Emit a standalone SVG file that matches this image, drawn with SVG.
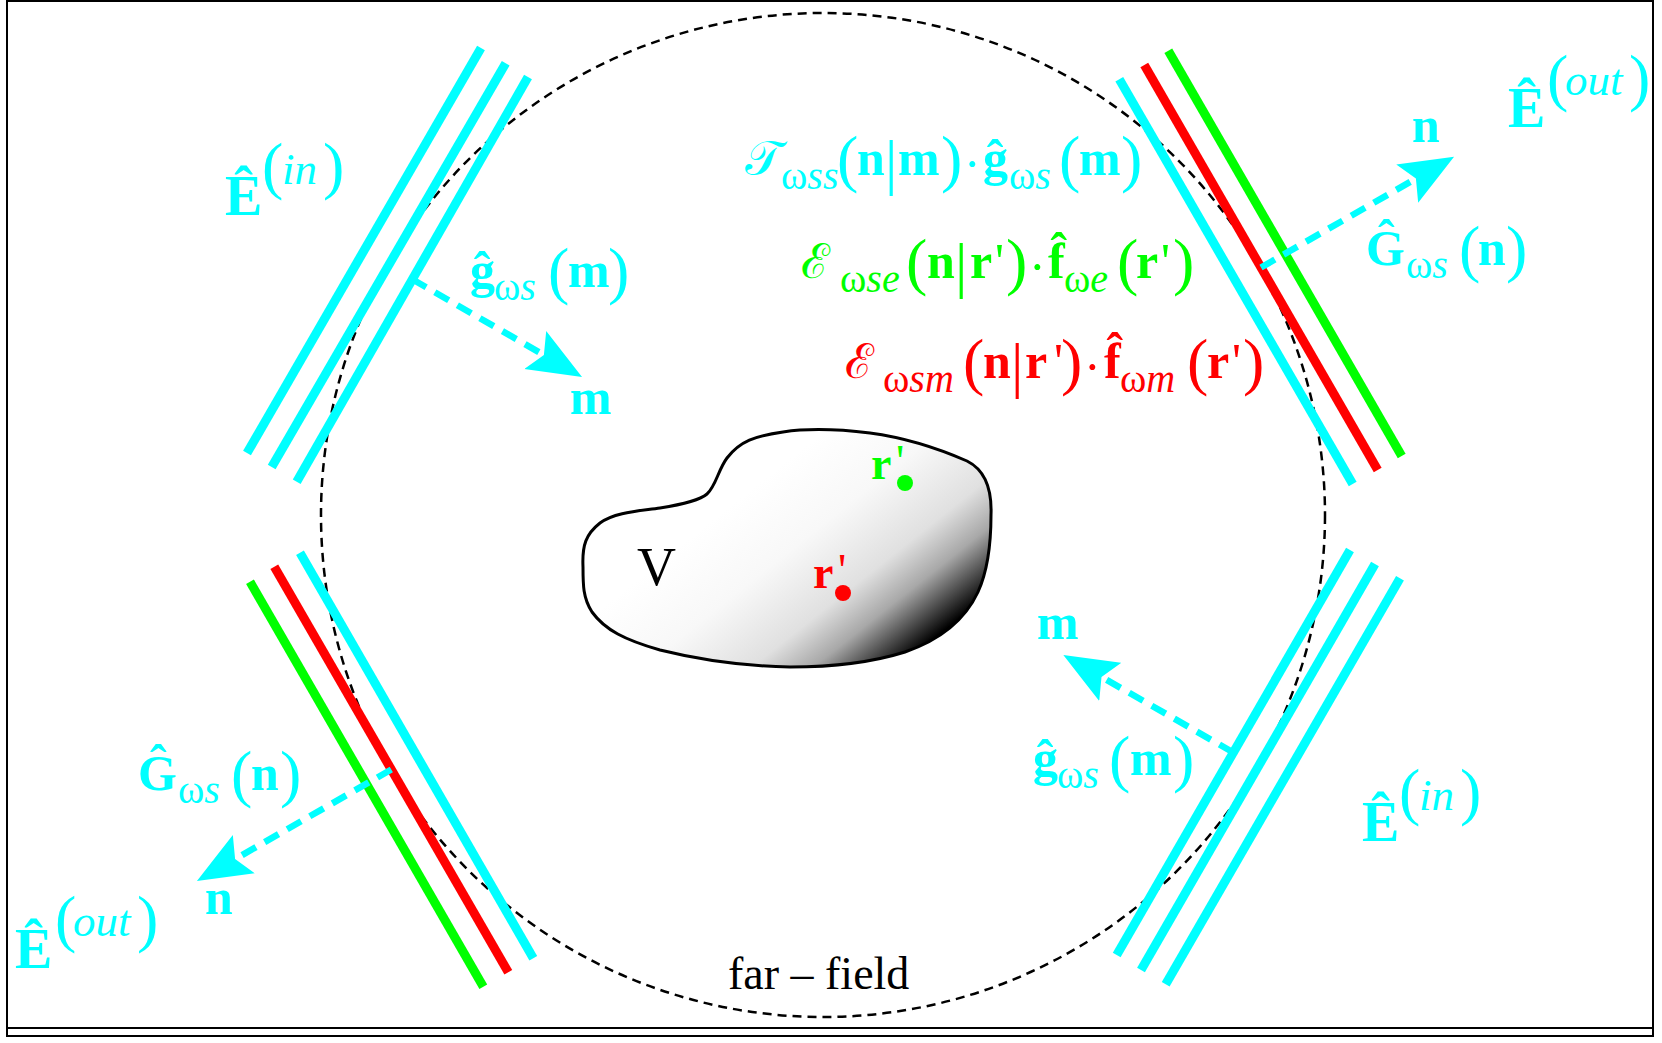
<svg xmlns="http://www.w3.org/2000/svg" width="1662" height="1043" viewBox="0 0 1662 1043">
<style>
.t{font-family:"Liberation Serif","DejaVu Serif",serif;}
.b{font-weight:bold;font-size:50px;}
.s{font-style:italic;font-size:40px;font-weight:normal;}
.u{font-style:normal;}
.p{font-size:64px;font-weight:normal;font-style:normal;}
.bar{font-size:62px;font-weight:normal;}
.dt{font-size:50px;font-weight:normal;}
.pr{font-size:50px;font-weight:normal;}
.scr{font-style:normal;font-size:48px;font-weight:normal;}
.E{font-weight:bold;font-size:56px;}
.sup{font-style:italic;font-size:45px;font-weight:normal;}
.cy{fill:#00FFFF;} .gr{fill:#00FF00;} .rd{fill:#FF0000;}
.beam{stroke-width:9;fill:none;stroke-linecap:butt;}
.sc{stroke:#00FFFF;} .sr{stroke:#FF0000;} .sg{stroke:#00FF00;}
.dash{stroke:#00FFFF;stroke-width:6.5;stroke-dasharray:16 10;fill:none;marker-end:url(#ah);}
</style>
<defs>
<marker id="ah" markerUnits="userSpaceOnUse" markerWidth="56" markerHeight="46" viewBox="0 0 56 46" refX="10" refY="23" orient="auto">
<path d="M0,1 L54,23 L0,45 L10,23 Z" fill="#00FFFF"/>
</marker>
<linearGradient id="shade" gradientUnits="userSpaceOnUse" x1="529.6" y1="665.6" x2="679" y2="853.5">
<stop offset="0" stop-color="#ffffff"/>
<stop offset="0.3" stop-color="#f8f8f8"/>
<stop offset="0.58" stop-color="#e0e0e0"/>
<stop offset="0.74" stop-color="#a8a8a8"/>
<stop offset="0.96" stop-color="#000000"/>
<stop offset="1" stop-color="#000000"/>
</linearGradient>
</defs>
<rect width="1662" height="1043" fill="#ffffff"/>
<g id="frame" fill="none" stroke="#000" stroke-width="2">
<rect x="7" y="1" width="1646" height="1035"/>
<line x1="7" y1="1028" x2="1653" y2="1028"/>
</g>
<g id="far-field">
<circle cx="823" cy="515" r="502" fill="none" stroke="#000" stroke-width="2.5" stroke-dasharray="9 6"/>
<text class="t" x="728" y="989" font-size="46">far – field</text>
</g>
<g id="body-V">
<path d="M583,567 C582,545 586,534 600,523 C615,512 640,511 660,508 C685,504 700,500 707,494 C716,486 718,470 727,458 C740,441 755,436 783,432 C810,428 845,430 870,433 C900,437 935,447 967,461 C985,470 992,490 991,515 C991,545 988,570 978,592 C965,620 940,640 905,652 C870,663 830,667 790,667 C740,666 700,660 660,650 C625,640 605,630 592,612 C583,598 583,585 583,567 Z" fill="url(#shade)" stroke="#000" stroke-width="3"/>
<text class="t" x="637" y="585" font-size="54">V</text>
</g>
<g id="point-e">
<text class="t gr" font-size="46"><tspan font-weight="bold" x="871" y="479">r</tspan><tspan x="896" y="477">'</tspan></text>
<circle cx="905" cy="483" r="8" fill="#00FF00"/>
</g>
<g id="point-m">
<text class="t rd" font-size="46"><tspan font-weight="bold" x="813" y="588">r</tspan><tspan x="838" y="586">'</tspan></text>
<circle cx="843" cy="593" r="8" fill="#FF0000"/>
</g>
<g id="beam-tl">
<line class="beam sc" x1="481" y1="48" x2="247" y2="453"/>
<line class="beam sc" x1="505.7" y1="63.3" x2="271.7" y2="467"/>
<line class="beam sc" x1="528" y1="77" x2="296.7" y2="481.7"/>
<text class="t cy"><tspan class="E" x="225" y="215">Ê</tspan><tspan class="p" x="262" y="186.5">(</tspan><tspan class="sup" x="282" y="184">in</tspan><tspan class="p" x="323" y="186.5">)</tspan></text>
<text class="t cy b"><tspan x="470" y="287">ĝ</tspan><tspan class="s" x="494" y="300"><tspan class="u">ω</tspan>s</tspan><tspan class="p" x="548" y="292">(</tspan><tspan x="568" y="287">m</tspan><tspan class="p" x="608" y="292">)</tspan></text>
<text class="t cy b" x="570" y="414">m</text>
</g>
<g id="beam-tr">
<line class="beam sc" x1="1119.3" y1="79.3" x2="1352.7" y2="484"/>
<line class="beam sr" x1="1144.3" y1="65" x2="1377.7" y2="470"/>
<line class="beam sg" x1="1168.3" y1="50.7" x2="1401.7" y2="456"/>
<text class="t cy"><tspan class="E" x="1508" y="127">Ê</tspan><tspan class="p" x="1547" y="98.5">(</tspan><tspan class="sup" x="1565" y="95">out</tspan><tspan class="p" x="1629" y="98.5">)</tspan></text>
<text class="t cy b"><tspan x="1366" y="265">Ĝ</tspan><tspan class="s" x="1406" y="278"><tspan class="u">ω</tspan>s</tspan><tspan class="p" x="1459" y="270">(</tspan><tspan x="1478" y="265">n</tspan><tspan class="p" x="1506" y="270">)</tspan></text>
<text class="t cy b" x="1412" y="142">n</text>
</g>
<g id="beam-bl">
<line class="beam sc" x1="300" y1="552.7" x2="533.3" y2="958.3"/>
<line class="beam sr" x1="274.3" y1="566.7" x2="508.3" y2="972.3"/>
<line class="beam sg" x1="250" y1="581.7" x2="483.3" y2="986.7"/>
<text class="t cy"><tspan class="E" x="15" y="968">Ê</tspan><tspan class="p" x="55" y="939.5">(</tspan><tspan class="sup" x="73" y="936">out</tspan><tspan class="p" x="137" y="939.5">)</tspan></text>
<text class="t cy b"><tspan x="138" y="790">Ĝ</tspan><tspan class="s" x="178" y="803"><tspan class="u">ω</tspan>s</tspan><tspan class="p" x="231" y="795">(</tspan><tspan x="251" y="790">n</tspan><tspan class="p" x="280" y="795">)</tspan></text>
<text class="t cy b" x="205" y="914">n</text>
</g>
<g id="beam-br">
<line class="beam sc" x1="1350" y1="550" x2="1116.7" y2="955"/>
<line class="beam sc" x1="1375" y1="564" x2="1141" y2="970"/>
<line class="beam sc" x1="1400" y1="578.3" x2="1165.7" y2="984.3"/>
<text class="t cy"><tspan class="E" x="1362" y="841">Ê</tspan><tspan class="p" x="1399" y="812.5">(</tspan><tspan class="sup" x="1419" y="810">in</tspan><tspan class="p" x="1460" y="812.5">)</tspan></text>
<text class="t cy b"><tspan x="1033" y="775">ĝ</tspan><tspan class="s" x="1057" y="788"><tspan class="u">ω</tspan>s</tspan><tspan class="p" x="1109" y="780">(</tspan><tspan x="1130" y="775">m</tspan><tspan class="p" x="1173" y="780">)</tspan></text>
<text class="t cy b" x="1037" y="639">m</text>
</g>
<g id="formula-T">
<text class="t cy b"><tspan class="scr" x="745" y="175">𝒯</tspan><tspan class="s" x="781" y="189"><tspan class="u">ω</tspan>ss</tspan><tspan class="p" x="837" y="180">(</tspan><tspan x="857" y="175">n</tspan><tspan class="bar" x="885" y="183">|</tspan><tspan x="898" y="175">m</tspan><tspan class="p" x="941" y="180">)</tspan><tspan class="dt" x="964" y="181">·</tspan><tspan x="983" y="175">ĝ</tspan><tspan class="s" x="1009" y="189"><tspan class="u">ω</tspan>s</tspan><tspan class="p" x="1059" y="180">(</tspan><tspan x="1079" y="175">m</tspan><tspan class="p" x="1121" y="180">)</tspan></text>
</g>
<g id="formula-Ee">
<text class="t gr b"><tspan class="scr" x="801" y="278">ℰ</tspan><tspan class="s" x="840" y="292"><tspan class="u">ω</tspan>se</tspan><tspan class="p" x="906" y="283">(</tspan><tspan x="927" y="278">n</tspan><tspan class="bar" x="955" y="286">|</tspan><tspan x="970" y="278">r</tspan><tspan class="pr" x="995" y="278">'</tspan><tspan class="p" x="1006" y="283">)</tspan><tspan class="dt" x="1029" y="284">·</tspan><tspan x="1048" y="278">f̂</tspan><tspan class="s" x="1064" y="292"><tspan class="u">ω</tspan>e</tspan><tspan class="p" x="1117" y="283">(</tspan><tspan x="1136" y="278">r</tspan><tspan class="pr" x="1161" y="278">'</tspan><tspan class="p" x="1173" y="283">)</tspan></text>
</g>
<g id="formula-Em">
<text class="t rd b"><tspan class="scr" x="845" y="378">ℰ</tspan><tspan class="s" x="883" y="392"><tspan class="u">ω</tspan>sm</tspan><tspan class="p" x="963" y="383">(</tspan><tspan x="983" y="378">n</tspan><tspan class="bar" x="1011" y="386">|</tspan><tspan x="1025" y="378">r</tspan><tspan class="pr" x="1054" y="378">'</tspan><tspan class="p" x="1061" y="383">)</tspan><tspan class="dt" x="1084" y="384">·</tspan><tspan x="1104" y="378">f̂</tspan><tspan class="s" x="1120" y="392"><tspan class="u">ω</tspan>m</tspan><tspan class="p" x="1187" y="383">(</tspan><tspan x="1207" y="378">r</tspan><tspan class="pr" x="1232" y="378">'</tspan><tspan class="p" x="1243" y="383">)</tspan></text>
</g>
<g id="connectors">
<path class="dash" d="M412.3,279.3 L543.9,355"/>
<path class="dash" d="M1261,267.5 L1415.9,178.6"/>
<path class="dash" d="M391.3,769.5 L235.1,859.1"/>
<path class="dash" d="M1233.3,752.5 L1101.5,676.9"/>
</g>
</svg>
